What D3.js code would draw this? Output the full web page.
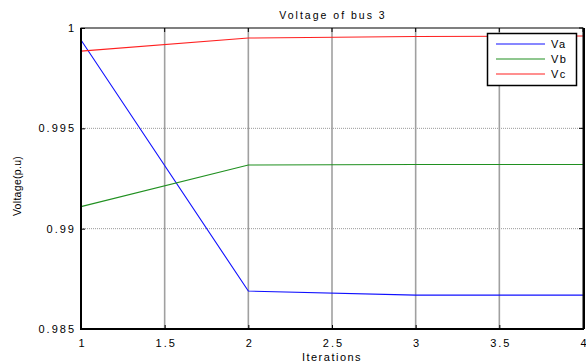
<!DOCTYPE html>
<html><head><meta charset="utf-8">
<script src="https://cdn.jsdelivr.net/npm/d3@7"></script>
<style>body{margin:0;background:#fff}svg{display:block}text{font-family:"Liberation Sans",Arial,sans-serif}</style>
</head><body><svg id="c" width="586" height="364"></svg>
<script>
const iterations = [1, 2, 3, 4];
const Va = [0.99940, 0.98689, 0.98669, 0.98669];
const Vb = [0.99110, 0.99317, 0.99320, 0.99320];
const Vc = [0.99885, 0.99950, 0.99958, 0.99960];
const seriesNames = ["Va", "Vb", "Vc"];
const seriesColors = ["#1010ff", "#209020", "#ff2020"];
const xTicks = [1, 1.5, 2, 2.5, 3, 3.5, 4];
const yTicks = [0.985, 0.99, 0.995, 1];
const yTickLabels = ["0.985", "0.99", "0.995", "1"];

const svg = d3.select("#c");
const L = 81, R = 583, T = 28, B = 329;
const x = d3.scaleLinear().domain([1, 4]).range([L, R]);
const y = d3.scaleLinear().domain([0.985, 1]).range([B, T]);
const LS = 2;

// grid
svg.append("g").selectAll("line").data(xTicks.slice(1, -1)).join("line")
  .attr("x1", d => x(d)).attr("x2", d => x(d)).attr("y1", T).attr("y2", B)
  .attr("stroke", "#a0a0a0").attr("stroke-width", 1.6);
svg.append("g").selectAll("line").data(yTicks.slice(1, -1)).join("line")
  .attr("x1", L).attr("x2", R).attr("y1", d => y(d)).attr("y2", d => y(d))
  .attr("stroke", "#999").attr("stroke-width", 1).attr("stroke-dasharray", "1,1");

// axes
const xAxis = d3.axisBottom(x).tickValues(xTicks).tickSize(-4).tickPadding(10).tickFormat(d3.format("~g"));
const gx = svg.append("g").attr("transform", `translate(0,${B})`).call(xAxis);
const yAxis = d3.axisLeft(y).tickValues(yTicks).tickSize(-4).tickPadding(6).tickFormat((d, i) => yTickLabels[i]);
const gy = svg.append("g").attr("transform", `translate(${L},0)`).call(yAxis);
[gx, gy].forEach(g => {
  g.select(".domain").remove();
  g.selectAll("line").attr("stroke", "#000");
  g.selectAll("text").attr("font-size", 11).attr("fill", "#000").attr("letter-spacing", LS);
});
gx.selectAll("text").attr("dx", LS / 2);
gy.selectAll("text").attr("dx", LS - 1);

// top ticks & right ticks
svg.append("g").selectAll("line").data(xTicks).join("line")
  .attr("x1", d => x(d)).attr("x2", d => x(d)).attr("y1", T).attr("y2", T + 4).attr("stroke", "#000");
svg.append("g").selectAll("line").data(yTicks).join("line")
  .attr("x1", R).attr("x2", R - 4).attr("y1", d => y(d)).attr("y2", d => y(d)).attr("stroke", "#000");

// series
const line = d3.line().x((d, i) => x(iterations[i])).y(d => y(d));
[Va, Vb, Vc].forEach((s, k) => {
  svg.append("path").datum(s).attr("d", line).attr("fill", "none")
    .attr("stroke", seriesColors[k]).attr("stroke-width", 1.1);
});

// frame
svg.append("rect").attr("x", L).attr("y", T).attr("width", R - L).attr("height", B - T)
  .attr("fill", "none").attr("stroke", "#000").attr("stroke-width", 1);
svg.append("line").attr("x1", L).attr("x2", L).attr("y1", T).attr("y2", B + 1).attr("stroke", "#000").attr("stroke-width", 2);
svg.append("line").attr("x1", L - 1).attr("x2", R + 1).attr("y1", B).attr("y2", B).attr("stroke", "#000").attr("stroke-width", 2);
svg.append("line").attr("x1", R + 1).attr("x2", R + 1).attr("y1", T).attr("y2", B).attr("stroke", "#000").attr("stroke-width", 2);

// legend
const lg = svg.append("g");
lg.append("rect").attr("x", 487.5).attr("y", 33.5).attr("width", 89).attr("height", 52)
  .attr("fill", "#fff").attr("stroke", "#000").attr("stroke-width", 1.5);
seriesNames.forEach((n, k) => {
  const yy = 44 + k * 15;
  lg.append("line").attr("x1", 496).attr("x2", 545).attr("y1", yy).attr("y2", yy)
    .attr("stroke", seriesColors[k]).attr("stroke-width", 1.2);
  lg.append("text").attr("x", 551).attr("y", yy + 4).attr("font-size", 11).attr("letter-spacing", 1.5).text(n);
});

// titles
svg.append("text").attr("x", 332 + 1).attr("y", 19).attr("text-anchor", "middle").attr("font-size", 10.5).attr("letter-spacing", 2).text("Voltage of bus 3");
svg.append("text").attr("x", 331 + 1).attr("y", 361).attr("text-anchor", "middle").attr("font-size", 11).attr("letter-spacing", 1.5).text("Iterations");
svg.append("text").attr("transform", `translate(21,186) rotate(-90)`).attr("text-anchor", "middle").attr("font-size", 10.5).attr("letter-spacing", 0.3).text("Voltage(p.u)");
</script></body></html>
